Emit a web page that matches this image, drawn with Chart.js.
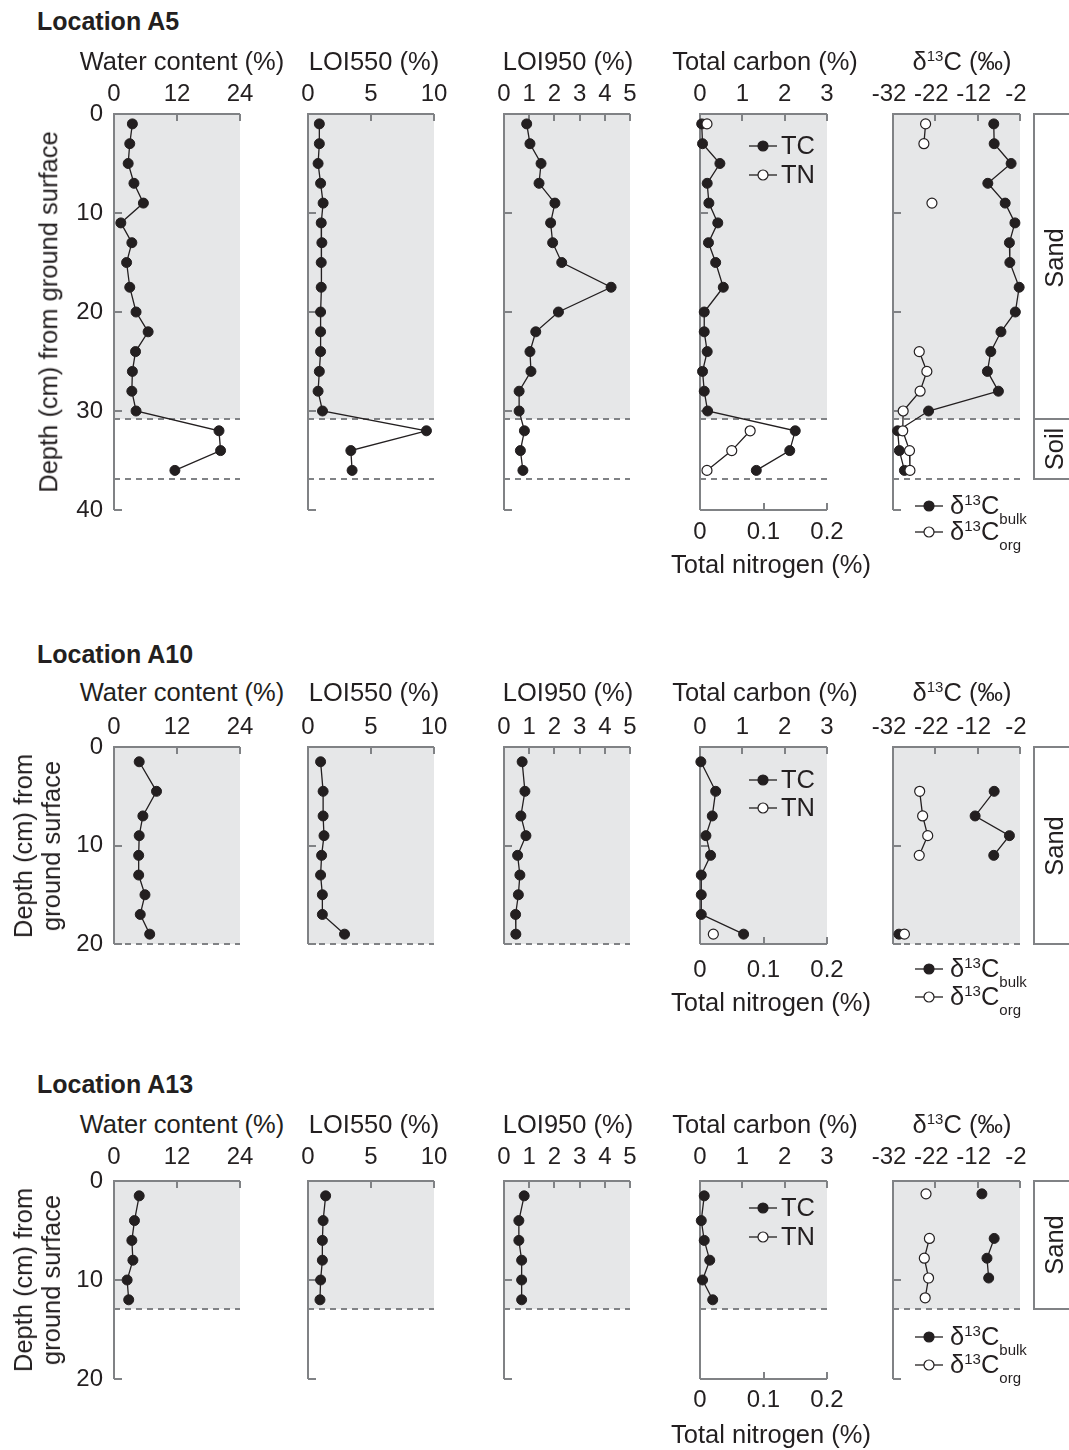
<!DOCTYPE html>
<html>
<head>
<meta charset="utf-8">
<script src="https://cdn.jsdelivr.net/npm/chart.js@4.4.1/dist/chart.umd.min.js"></script>
<style>
	html, body { margin: 0; padding: 0; background: #fff; }
	#fig { position: relative; width: 1069px; height: 1450px; overflow: hidden;
		font-family: "Liberation Sans", Arial, Helvetica, sans-serif; color: #231f20; }
	#fig canvas { position: absolute; }
	.txt { position: absolute; white-space: nowrap; line-height: 1; font-size: 25.5px;
		transform: translate(-50%, -50%); }
	.left { transform: translate(0, -50%); }
	.rot { transform: translate(-50%, -50%) rotate(-90deg); }
	.loc { font-weight: bold; font-size: 25px; }
	.two { line-height: 28px; text-align: center; }
	.sup { font-size: 15px; position: relative; top: -9px; }
	.sub { font-size: 15px; position: relative; top: 10px; }
	.box { position: absolute; border: 2px solid #808285; border-right: none; box-sizing: border-box; }
	.rule { position: absolute; height: 2px; background: #808285; }
</style>
</head>
<body>
<div id="fig"></div>
<script>
// ---------- data (depth in cm) ----------
const depthA5 = [1, 3, 5, 7, 9, 11, 13, 15, 17.5, 20, 22, 24, 26, 28, 30, 32, 34, 36];
const waterA5 = [3.5, 3.0, 2.7, 3.8, 5.6, 1.3, 3.4, 2.4, 3.0, 4.2, 6.5, 4.1, 3.5, 3.4, 4.2, 20.0, 20.3, 11.6];
const loi550A5 = [0.9, 0.9, 0.8, 1.0, 1.2, 1.05, 1.1, 1.05, 1.05, 1.0, 1.0, 1.0, 0.9, 0.8, 1.15, 9.4, 3.4, 3.5];
const loi950A5 = [0.9, 1.03, 1.47, 1.39, 2.02, 1.85, 1.93, 2.29, 4.25, 2.16, 1.26, 1.03, 1.07, 0.6, 0.6, 0.81, 0.65, 0.75];
const tcA5 = [0.04, 0.06, 0.47, 0.17, 0.21, 0.42, 0.2, 0.37, 0.55, 0.1, 0.1, 0.17, 0.06, 0.1, 0.18, 2.25, 2.12, 1.33];
const tnA5 = [0.011, null, null, null, null, null, null, null, null, null, null, null, null, null, null, 0.079, 0.05, 0.011];
const bulkA5 = [-8.2, -8.1, -4.1, -9.6, -5.5, -3.2, -4.5, -4.4, -2.2, -3.1, -6.5, -8.9, -9.7, -7.1, -23.6, -30.9, -30.5, -29.3];
const orgA5 = [-24.3, -24.7, null, null, -22.8, null, null, null, null, null, null, -25.8, -24.0, -25.6, -29.6, -29.7, -28.1, -28.0];
const layersA5 = [30.8, 36.9];

const depthA10 = [1.5, 4.5, 7, 9, 11, 13, 15, 17, 19];
const waterA10 = [4.8, 8.1, 5.5, 4.8, 4.7, 4.7, 5.9, 5.0, 6.8];
const loi550A10 = [1.0, 1.2, 1.2, 1.27, 1.08, 1.0, 1.14, 1.14, 2.9];
const loi950A10 = [0.72, 0.83, 0.67, 0.87, 0.54, 0.63, 0.57, 0.46, 0.47];
const tcA10 = [0.02, 0.37, 0.29, 0.14, 0.25, 0.03, 0.03, 0.03, 1.03];
const tnA10 = [null, null, null, null, null, null, null, null, 0.021];
const bulkA10 = [null, -8.1, -12.6, -4.5, -8.2, null, null, null, -30.6];
const orgA10 = [null, -25.7, -25.0, -23.8, -25.8, null, null, null, -29.3];
const layersA10 = [20];

const depthA13 = [1.5, 4, 6, 8, 10, 12];
const waterA13 = [4.8, 3.9, 3.4, 3.6, 2.5, 2.8];
const loi550A13 = [1.4, 1.2, 1.14, 1.14, 1.0, 0.95];
const loi950A13 = [0.8, 0.59, 0.59, 0.7, 0.7, 0.7];
const tcA13 = [0.1, 0.03, 0.1, 0.23, 0.06, 0.3];
const tnA13 = [null, null, null, null, null, null];
const isoDepthA13 = [1.3, 4, 5.8, 7.8, 9.8, 11.8];
const bulkA13 = [-11.0, null, -8.1, -9.8, -9.4, null];
const orgA13 = [-24.2, null, -23.4, -24.6, -23.6, -24.4];
const layersA13 = [12.9];

// tick labels
const waterTicks = [0, 12, 24];
const loi550Ticks = [0, 5, 10];
const loi950Ticks = [0, 1, 2, 3, 4, 5];
const tcTicks = [0, 1, 2, 3];
const tnTicks = [0, 0.1, 0.2];
const d13cTicks = [-32, -22, -12, -2];
const depthTicks40 = [0, 10, 20, 30, 40];
const depthTicks20 = [0, 10, 20];

const panelTitles = ['Water content (%)', 'LOI550 (%)', 'LOI950 (%)', 'Total carbon (%)', 'δ<span class="sup">13</span>C (‰)'];

// ---------- look ----------
const INK = '#231f20';
const AXIS = '#808285';
const SHADE = '#e6e7e8';
const FONT = '"Liberation Sans", Arial, Helvetica, sans-serif';
Chart.defaults.font.family = FONT;
Chart.defaults.color = INK;

const colLeft = [114, 308, 504, 700, 893];
const colWidth = [126, 126, 126, 127, 127];
const titleX = [182, 374, 568, 765, 962];
const PAD = { l: 70, r: 34, t: 40, b: 40 };

const fig = document.getElementById('fig');

// grey fill, dashed layer lines and the open axis frame with inward ticks
const panelFrame = {
	id: 'panelFrame',
	beforeDatasetsDraw(chart, args, o) {
		const { ctx, chartArea: a } = chart;
		const x = chart.scales.x;
		const y = chart.scales.y;
		ctx.save();
		const ys = Math.round(y.getPixelForValue(o.shade));
		ctx.fillStyle = SHADE;
		ctx.fillRect(a.left, a.top, a.right - a.left, ys - a.top);

		ctx.strokeStyle = AXIS;
		ctx.lineWidth = 2;
		ctx.setLineDash([6, 5]);
		o.dashes.forEach((d) => {
			const p = Math.round(y.getPixelForValue(d));
			ctx.beginPath();
			ctx.moveTo(a.left, p);
			ctx.lineTo(a.right, p);
			ctx.stroke();
		});
		ctx.setLineDash([]);

		ctx.beginPath();
		ctx.moveTo(a.right, a.top);
		ctx.lineTo(a.left, a.top);
		ctx.lineTo(a.left, a.bottom);
		o.xTicks.slice(1).forEach((v) => {
			const p = Math.round(x.getPixelForValue(v));
			ctx.moveTo(p, a.top);
			ctx.lineTo(p, a.top + 7);
		});
		o.yTicks.slice(1).forEach((v) => {
			const p = Math.round(y.getPixelForValue(v));
			ctx.moveTo(a.left, p);
			ctx.lineTo(a.left + 8, p);
		});
		if (o.bottomAxis) {
			const tn = chart.scales.tn;
			ctx.moveTo(a.left, a.bottom);
			ctx.lineTo(a.right, a.bottom);
			tnTicks.slice(1).forEach((v) => {
				const p = Math.round(tn.getPixelForValue(v));
				ctx.moveTo(p, a.bottom);
				ctx.lineTo(p, a.bottom - 7);
			});
		}
		ctx.stroke();
		ctx.restore();
	},
};

function axisX(position, ticks, pad, size, offset) {
	return {
		type: 'linear',
		axis: 'x',
		position: position,
		min: ticks[0],
		max: ticks[ticks.length - 1],
		afterBuildTicks: (s) => { s.ticks = ticks.map((v) => ({ value: v })); },
		afterFit: (s) => { s.height = size; },
		ticks: {
			stepSize: ticks[1] - ticks[0],
			autoSkip: false,
			maxRotation: 0,
			minRotation: 0,
			padding: pad,
			labelOffset: offset || 0,
			color: INK,
			font: { size: 24 },
			callback: (v) => String(v),
		},
		grid: { display: false, drawTicks: false },
		border: { display: false },
	};
}

function series(depths, values, open, axisId) {
	return {
		data: depths.map((d, i) => ({ x: values[i], y: d })),
		showLine: true,
		xAxisID: axisId || 'x',
		borderColor: INK,
		borderWidth: 1.3,
		pointRadius: 5,
		pointBorderWidth: open ? 1.2 : 1,
		pointBorderColor: INK,
		pointBackgroundColor: open ? '#fff' : INK,
		clip: false,
	};
}

function panel(row, col, ticks, datasets, hasTN) {
	const w = colWidth[col] + PAD.l + PAD.r;
	const h = row.height + PAD.t + PAD.b;
	const cv = document.createElement('canvas');
	cv.width = w;
	cv.height = h;
	cv.style.left = (colLeft[col] - PAD.l) + 'px';
	cv.style.top = (row.top - PAD.t) + 'px';
	cv.style.width = w + 'px';
	cv.style.height = h + 'px';
	fig.appendChild(cv);

	const scales = {
		x: axisX('top', ticks, row.tickPad, PAD.t, col === 4 ? -4 : 0),
		y: {
			type: 'linear',
			reverse: true,
			min: 0,
			max: row.depthTicks[row.depthTicks.length - 1],
			afterBuildTicks: (s) => { s.ticks = row.depthTicks.map((v) => ({ value: v })); },
			afterFit: (s) => { s.width = PAD.l; },
			ticks: {
				display: col === 0,
				padding: 11,
				autoSkip: false,
				color: INK,
				font: { size: 24 },
				callback: (v) => String(v),
			},
			grid: { display: false, drawTicks: false },
			border: { display: false },
		},
	};
	if (hasTN) scales.tn = axisX('bottom', tnTicks, row.tnPad, PAD.b);

	new Chart(cv, {
		type: 'scatter',
		data: { datasets: datasets },
		options: {
			responsive: false,
			animation: false,
			events: [],
			indexAxis: 'y',
			layout: { padding: { left: 0, right: PAD.r, top: 0, bottom: hasTN ? 0 : PAD.b } },
			plugins: {
				legend: { display: false },
				tooltip: { enabled: false },
				panelFrame: {
					shade: row.layers[0],
					dashes: row.layers,
					xTicks: ticks,
					yTicks: row.depthTicks,
					bottomAxis: !!hasTN,
				},
			},
			scales: scales,
		},
		plugins: [panelFrame],
	});
}

function addText(html, x, y, cls) {
	const d = document.createElement('div');
	d.className = 'txt ' + (cls || '');
	d.innerHTML = html;
	d.style.left = x + 'px';
	d.style.top = y + 'px';
	fig.appendChild(d);
	return d;
}

function marker(x, y, open) {
	const fill = open ? '#fff' : INK;
	addText('<svg width="28" height="14" style="display:block"><line x1="0" y1="7" x2="28" y2="7" stroke="' + INK +
		'" stroke-width="1.3"/><circle cx="14" cy="7" r="5" fill="' + fill + '" stroke="' + INK + '" stroke-width="1.2"/></svg>', x, y);
}

function addBox(top, bottom, divider) {
	const b = document.createElement('div');
	b.className = 'box';
	b.style.left = '1033px';
	b.style.top = (top - 1) + 'px';
	b.style.width = '80px';
	b.style.height = (bottom - top + 2) + 'px';
	fig.appendChild(b);
	if (divider) {
		const r = document.createElement('div');
		r.className = 'rule';
		r.style.left = '1033px';
		r.style.top = (divider - 1) + 'px';
		r.style.width = '80px';
		fig.appendChild(r);
	}
}

// ---------- rows ----------
const rows = [
	{
		name: 'Location A5', top: 114, height: 396, depthTicks: depthTicks40, layers: layersA5,
		tickPad: 5, tnPad: 7.5, locY: 20.5, titleY: 62,
		depth: depthA5, iso: depthA5, water: waterA5, loi550: loi550A5, loi950: loi950A5,
		tc: tcA5, tn: tnA5, bulk: bulkA5, org: orgA5,
		yTitle: ['Depth (cm) from ground surface', 49, 312, ''],
		tcLeg: [146, 175], isoLeg: [506, 532], tnTitleY: 565,
		box: [114, 479, 419], sand: [258], soil: 449,
	},
	{
		name: 'Location A10', top: 747, height: 197, depthTicks: depthTicks20, layers: layersA10,
		tickPad: 5, tnPad: 11.5, locY: 654, titleY: 693,
		depth: depthA10, iso: depthA10, water: waterA10, loi550: loi550A10, loi950: loi950A10,
		tc: tcA10, tn: tnA10, bulk: bulkA10, org: orgA10,
		yTitle: ['Depth (cm) from<br>ground surface', 36.6, 845.5, 'two'],
		tcLeg: [780, 808], isoLeg: [969, 997], tnTitleY: 1003,
		box: [747, 944, 0], sand: [846], soil: 0,
	},
	{
		name: 'Location A13', top: 1181, height: 198, depthTicks: depthTicks20, layers: layersA13,
		tickPad: 9.5, tnPad: 6.5, locY: 1084, titleY: 1125,
		depth: depthA13, iso: isoDepthA13, water: waterA13, loi550: loi550A13, loi950: loi950A13,
		tc: tcA13, tn: tnA13, bulk: bulkA13, org: orgA13,
		yTitle: ['Depth (cm) from<br>ground surface', 36.6, 1280, 'two'],
		tcLeg: [1208, 1237], isoLeg: [1337, 1365], tnTitleY: 1435,
		box: [1181, 1309, 0], sand: [1245], soil: 0,
	},
];

rows.forEach((r) => {
	panel(r, 0, waterTicks, [series(r.depth, r.water)]);
	panel(r, 1, loi550Ticks, [series(r.depth, r.loi550)]);
	panel(r, 2, loi950Ticks, [series(r.depth, r.loi950)]);
	panel(r, 3, tcTicks, [series(r.depth, r.tn, true, 'tn'), series(r.depth, r.tc)], true);
	panel(r, 4, d13cTicks, [series(r.iso, r.org, true), series(r.iso, r.bulk)]);

	addText(r.name, 37, r.locY, 'left loc');
	panelTitles.forEach((t, i) => addText(t, titleX[i], r.titleY));
	addText(r.yTitle[0], r.yTitle[1], r.yTitle[2], 'rot ' + r.yTitle[3]);

	marker(763, r.tcLeg[0], false);
	addText('TC', 781, r.tcLeg[0], 'left');
	marker(763, r.tcLeg[1], true);
	addText('TN', 781, r.tcLeg[1], 'left');
	addText('Total nitrogen (%)', 771, r.tnTitleY);

	marker(929, r.isoLeg[0], false);
	addText('δ<span class="sup">13</span>C<span class="sub">bulk</span>', 950, r.isoLeg[0], 'left');
	marker(929, r.isoLeg[1], true);
	addText('δ<span class="sup">13</span>C<span class="sub">org</span>', 950, r.isoLeg[1], 'left');

	addBox(r.box[0], r.box[1], r.box[2]);
	addText('Sand', 1055, r.sand[0], 'rot');
	if (r.soil) addText('Soil', 1055, r.soil, 'rot');
});
</script>
</body>
</html>
